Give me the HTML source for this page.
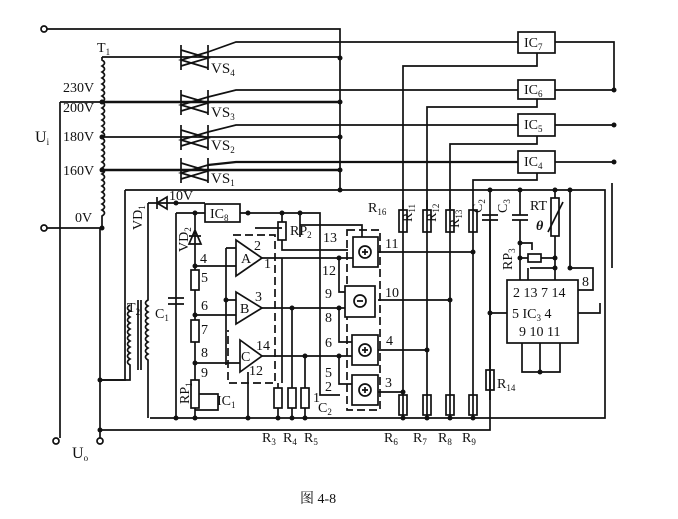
<!DOCTYPE html>
<html><head><meta charset="utf-8"><style>
html,body{margin:0;padding:0;background:#fff;}
svg{display:block}
text{font-family:"Liberation Serif","Noto Serif CJK SC",serif;fill:#111;}
</style></head><body>
<svg width="678" height="519" viewBox="0 0 678 519" xmlns="http://www.w3.org/2000/svg">
<g stroke="#111" stroke-width="1.7" fill="none">
<!-- input -->
<circle cx="44" cy="29" r="3"/><circle cx="44" cy="228" r="3"/>
<circle cx="56" cy="441" r="3"/><circle cx="100" cy="441" r="3"/>
<path d="M47 29 H340 V190"/>
<path d="M47 228 H102"/>
<path d="M60 102 H102 M60 102 V438"/>
<!-- T1 coil -->
<path d="M102 57 V60 q5 3 0 6 q5 3 0 6 q5 3 0 6 q5 3 0 6 q5 3 0 6 q5 3 0 6 q5 3 0 6 q5 3 0 6 q5 3 0 6 q5 3 0 6 q5 3 0 6 q5 3 0 6 q5 3 0 6 q5 3 0 6 q5 3 0 6 q5 3 0 6 q5 3 0 6 q5 3 0 6 q5 3 0 6 q5 3 0 6 q5 3 0 6 q5 3 0 6 q5 3 0 6 q5 3 0 6 q5 3 0 6 q5 3 0 6 V228"/>
<path d="M100 228 V438"/>
<!-- lines to VS -->
<path d="M102 57 H340"/>
<path d="M102 102 H340" stroke-width="2.5"/>
<path d="M102 137 H340"/>
<path d="M102 170 H340" stroke-width="2.5"/>
<!-- thyristors -->
<g>
<path d="M181 45 V70 M208 45 V70 M181 50 L208 58 L181 66 M208 52 L181 60 L208 68"/>
<path d="M208 52 L236 42 H518"/>
<path d="M181 90 V115 M208 90 V115 M181 95 L208 103 L181 111 M208 97 L181 105 L208 113"/>
<path d="M208 97 L236 90 H518"/>
<path d="M181 125 V150 M208 125 V150 M181 130 L208 138 L181 146 M208 132 L181 140 L208 148"/>
<path d="M208 132 L236 125 H518"/>
<path d="M181 158 V183 M208 158 V183 M181 163 L208 171 L181 179 M208 165 L181 173 L208 181"/>
<path d="M208 165 L236 162 H518" stroke-width="2.2"/>
</g>
<!-- IC boxes right -->
<rect x="518" y="32" width="37" height="21"/>
<rect x="518" y="80" width="37" height="19"/>
<rect x="518" y="114" width="37" height="22"/>
<rect x="518" y="151" width="37" height="22"/>
<path d="M555 42 H614 V90 M555 90 H614 M555 125 H614 M555 162 H614"/>
<path d="M537 53 V66 H403 V420"/>
<path d="M537 99 V107 H427 V420"/>
<path d="M537 136 V144 H450 V420"/>
<path d="M537 173 V180 H473 V420"/>
<!-- frame -->
<path d="M125 190 H605 V418 H150"/>
<path d="M125 190 V380 H100"/>
<path d="M100 430 H490 V215"/>
<path d="M612 183 V268" />
<!-- C2 C3 RT -->
<path d="M490 190 V215 M482 215 H498 M482 220 H498 M490 220 V400"/>
<path d="M520 190 V215 M512 215 H528 M512 220 H528 M520 220 V243 V280"/>
<path d="M555 190 V198 M555 236 V280"/>
<rect x="551" y="198" width="8" height="38"/>
<path d="M548 232 L563 202"/>
<path d="M570 190 V268"/>
<path d="M520 243 H532 V250 M520 258 H528 M541 258 H555"/>
<rect x="528" y="254" width="13" height="8"/>
<path d="M528 268 V280 M570 268 H593 V290 H578 M530 268 H555"/>
<rect x="507" y="280" width="71" height="63"/>
<path d="M490 313 H507 M578 313 H600 V303"/>
<path d="M522 343 V372 H560 V343 M540 343 V372"/>
<rect x="486" y="370" width="8" height="20"/>
<!-- R11..R13 -->
<rect x="399" y="210" width="8" height="22"/>
<rect x="423" y="210" width="8" height="22"/>
<rect x="446" y="210" width="8" height="22"/>
<rect x="469" y="210" width="8" height="22"/>
<path d="M403 200 V210 M427 200 V210 M450 200 V210"/>
<!-- R6..R9 -->
<rect x="399" y="395" width="8" height="20"/>
<rect x="423" y="395" width="8" height="20"/>
<rect x="446" y="395" width="8" height="20"/>
<rect x="469" y="395" width="8" height="20"/>
<!-- horizontal outputs of IC2 -->
<path d="M378 252 H473 M378 300 H450 M378 350 H427 M378 392 H403" />
<!-- left section -->
<path d="M148 203 H205 M240 213 H320 V395 H340"/>
<path d="M205 213 H176"/>
<path d="M157 197 V209 M157 203 L167 197 V209 Z"/>
<path d="M148 203 V300 q-5 3 0 6 q-5 3 0 6 q-5 3 0 6 q-5 3 0 6 q-5 3 0 6 q-5 3 0 6 q-5 3 0 6 q-5 3 0 6 q-5 3 0 6 q-5 3 0 6 V418"/>
<path d="M130 305 q-5 3 0 6 q-5 3 0 6 q-5 3 0 6 q-5 3 0 6 q-5 3 0 6 q-5 3 0 6 q-5 3 0 6 q-5 3 0 6 q-5 3 0 6 q-5 3 0 6 V380 H100"/>
<path d="M138 300 V370 M141 300 V370"/>
<rect x="205" y="204" width="35" height="18"/>
<path d="M176 213 V418 M168 298 H184 M168 304 H184"/>
<path d="M195 213 V266 M189 236 H201 M195 230 L189 244 H201 Z"/>
<path d="M195 266 H236 M195 266 V418"/>
<rect x="191" y="270" width="8" height="20" fill="#fff"/>
<rect x="191" y="320" width="8" height="22" fill="#fff"/>
<rect x="191" y="380" width="8" height="28" fill="#fff"/>
<path d="M199 394 H218 V410 H195"/>
<path d="M195 315 H236 M195 363 H240 M226 248 H236 M226 248 V365 M226 300 H236"/>
<!-- op amps -->
<path d="M236 240 V276 L262 258 Z M236 292 V324 L262 308 Z M240 340 V372 L262 356 Z" fill="#fff"/>
<path d="M262 258 H353 M262 308 H345 M262 356 H352"/>
<path d="M233 235 H275 V383 H228 V330" stroke-dasharray="8 4"/>
<path d="M255 228 H282 M282 213 V222 M282 240 V250 H348 M300 213 V237"/>
<rect x="278" y="222" width="8" height="18"/>
<path d="M282 258 V383 M278 383 V418 M292 308 V418 M305 356 V418 M248 372 V418"/>
<rect x="274" y="388" width="8" height="20" fill="#fff"/>
<rect x="288" y="388" width="8" height="20" fill="#fff"/>
<rect x="301" y="388" width="8" height="20" fill="#fff"/>
<!-- IC2 blocks -->
<path d="M347 230 H380 V410 H347 Z" stroke-dasharray="8 4"/>
<rect x="353" y="237" width="25" height="30" fill="#fff"/>
<rect x="345" y="286" width="30" height="31" fill="#fff"/>
<rect x="352" y="335" width="26" height="30" fill="#fff"/>
<rect x="352" y="375" width="26" height="30" fill="#fff"/>
<circle cx="365" cy="252" r="6"/><circle cx="360" cy="301" r="6"/><circle cx="365" cy="350" r="6"/><circle cx="365" cy="390" r="6"/>
<path d="M362 252 H368 M365 249 V255 M357 301 H363 M362 350 H368 M365 347 V353 M362 390 H368 M365 387 V393"/>
<path d="M339 258 V292 H345 M339 308 V342 H352 M339 356 V384 H352"/>
<path d="M362 237 V225 H300"/>
</g>
<!-- dots -->
<g fill="#111">
<circle cx="340" cy="58" r="2.5"/><circle cx="340" cy="102" r="2.5"/><circle cx="340" cy="137" r="2.5"/><circle cx="340" cy="170" r="2.5"/><circle cx="340" cy="190" r="2.5"/>
<circle cx="102" cy="102" r="2.5"/><circle cx="102" cy="137" r="2.5"/><circle cx="102" cy="170" r="2.5"/><circle cx="102" cy="228" r="2.5"/>
<circle cx="614" cy="90" r="2.5"/><circle cx="614" cy="125" r="2.5"/><circle cx="614" cy="162" r="2.5"/>
<circle cx="490" cy="190" r="2.5"/><circle cx="520" cy="190" r="2.5"/><circle cx="555" cy="190" r="2.5"/><circle cx="570" cy="190" r="2.5"/>
<circle cx="176" cy="203" r="2.5"/><circle cx="195" cy="213" r="2.5"/><circle cx="248" cy="213" r="2.5"/><circle cx="282" cy="213" r="2.5"/><circle cx="300" cy="213" r="2.5"/>
<circle cx="195" cy="266" r="2.5"/><circle cx="195" cy="315" r="2.5"/><circle cx="195" cy="363" r="2.5"/><circle cx="226" cy="300" r="2.5"/>
<circle cx="292" cy="308" r="2.5"/><circle cx="305" cy="356" r="2.5"/><circle cx="339" cy="258" r="2.5"/><circle cx="339" cy="308" r="2.5"/><circle cx="339" cy="356" r="2.5"/>
<circle cx="403" cy="392" r="2.5"/><circle cx="427" cy="350" r="2.5"/><circle cx="450" cy="300" r="2.5"/><circle cx="473" cy="252" r="2.5"/>
<circle cx="403" cy="418" r="2.5"/><circle cx="427" cy="418" r="2.5"/><circle cx="450" cy="418" r="2.5"/><circle cx="473" cy="418" r="2.5"/>
<circle cx="490" cy="313" r="2.5"/><circle cx="540" cy="372" r="2.5"/><circle cx="520" cy="243" r="2.5"/><circle cx="520" cy="258" r="2.5"/><circle cx="555" cy="258" r="2.5"/><circle cx="555" cy="268" r="2.5"/><circle cx="570" cy="268" r="2.5"/>
<circle cx="100" cy="380" r="2.5"/><circle cx="100" cy="430" r="2.5"/><circle cx="176" cy="418" r="2.5"/><circle cx="195" cy="418" r="2.5"/><circle cx="248" cy="418" r="2.5"/><circle cx="278" cy="418" r="2.5"/><circle cx="292" cy="418" r="2.5"/><circle cx="305" cy="418" r="2.5"/>
</g>
<!-- labels -->
<g font-size="14">
<text x="97" y="52">T<tspan font-size="9" dy="3">1</tspan></text>
<text x="63" y="92">230V</text><text x="63" y="112">200V</text><text x="63" y="141">180V</text><text x="63" y="175">160V</text><text x="75" y="222">0V</text>
<text x="35" y="142" font-size="16">U<tspan font-size="9" dy="3">i</tspan></text>
<text x="72" y="458" font-size="16">U<tspan font-size="9" dy="3">o</tspan></text>
<text x="211" y="73" font-size="15">VS<tspan font-size="9" dy="3">4</tspan></text>
<text x="211" y="117" font-size="15">VS<tspan font-size="9" dy="3">3</tspan></text>
<text x="211" y="150" font-size="15">VS<tspan font-size="9" dy="3">2</tspan></text>
<text x="211" y="183" font-size="15">VS<tspan font-size="9" dy="3">1</tspan></text>
<text x="524" y="47">IC<tspan font-size="9" dy="3">7</tspan></text>
<text x="524" y="94">IC<tspan font-size="9" dy="3">6</tspan></text>
<text x="524" y="129">IC<tspan font-size="9" dy="3">5</tspan></text>
<text x="524" y="166">IC<tspan font-size="9" dy="3">4</tspan></text>
<text x="210" y="218">IC<tspan font-size="9" dy="3">8</tspan></text>
<text x="169" y="200">10V</text>
<text x="142" y="230" transform="rotate(-90 142 230)">VD<tspan font-size="9" dy="3">1</tspan></text>
<text x="188" y="252" transform="rotate(-90 188 252)">VD<tspan font-size="9" dy="3">2</tspan></text>
<text x="127" y="312">T<tspan font-size="9" dy="3">2</tspan></text>
<text x="155" y="318">C<tspan font-size="9" dy="3">1</tspan></text>
<text x="189" y="404" transform="rotate(-90 189 404)">RP<tspan font-size="9" dy="3">1</tspan></text>
<text x="217" y="405">IC<tspan font-size="9" dy="3">1</tspan></text>
<text x="200" y="263">4</text><text x="201" y="282">5</text><text x="201" y="310">6</text><text x="201" y="334">7</text><text x="201" y="357">8</text><text x="201" y="377">9</text>
<text x="241" y="263">A</text><text x="240" y="313">B</text><text x="241" y="361">C</text>
<text x="254" y="250">2</text><text x="264" y="268">1</text><text x="255" y="301">3</text><text x="256" y="350">14</text><text x="249" y="375">12</text>
<text x="290" y="235">RP<tspan font-size="9" dy="3">2</tspan></text>
<text x="368" y="212">R<tspan font-size="9" dy="3">16</tspan></text>
<text x="323" y="242">13</text><text x="322" y="275">12</text><text x="325" y="298">9</text><text x="325" y="322">8</text><text x="325" y="347">6</text><text x="325" y="377">5</text><text x="325" y="391">2</text><text x="313" y="402">1</text>
<text x="318" y="412">C<tspan font-size="9" dy="3">2</tspan></text>
<text x="385" y="248">11</text><text x="385" y="297">10</text><text x="386" y="345">4</text><text x="385" y="387">3</text>
<text x="412" y="222" transform="rotate(-90 412 222)">R<tspan font-size="9" dy="3">11</tspan></text>
<text x="436" y="222" transform="rotate(-90 436 222)">R<tspan font-size="9" dy="3">12</tspan></text>
<text x="459" y="228" transform="rotate(-90 459 228)">R<tspan font-size="9" dy="3">13</tspan></text>
<text x="482" y="213" transform="rotate(-90 482 213)">C<tspan font-size="9" dy="3">2</tspan></text>
<text x="507" y="213" transform="rotate(-90 507 213)">C<tspan font-size="9" dy="3">3</tspan></text>
<text x="530" y="210">RT</text>
<text x="536" y="230" font-style="italic" font-weight="bold">θ</text>
<text x="512" y="270" transform="rotate(-90 512 270)">RP<tspan font-size="9" dy="3">3</tspan></text>
<text x="513" y="297">2 13  7 14</text>
<text x="512" y="318">5  IC<tspan font-size="9" dy="3">3</tspan><tspan dy="-3">  4</tspan></text>
<text x="519" y="336">9  10 11</text>
<text x="582" y="286">8</text>
<text x="497" y="388">R<tspan font-size="9" dy="3">14</tspan></text>
<text x="262" y="442">R<tspan font-size="9" dy="3">3</tspan></text>
<text x="283" y="442">R<tspan font-size="9" dy="3">4</tspan></text>
<text x="304" y="442">R<tspan font-size="9" dy="3">5</tspan></text>
<text x="384" y="442">R<tspan font-size="9" dy="3">6</tspan></text>
<text x="413" y="442">R<tspan font-size="9" dy="3">7</tspan></text>
<text x="438" y="442">R<tspan font-size="9" dy="3">8</tspan></text>
<text x="462" y="442">R<tspan font-size="9" dy="3">9</tspan></text>
</g>
<text x="300" y="503" font-size="14">图 4-8</text>
</svg>
</body></html>
